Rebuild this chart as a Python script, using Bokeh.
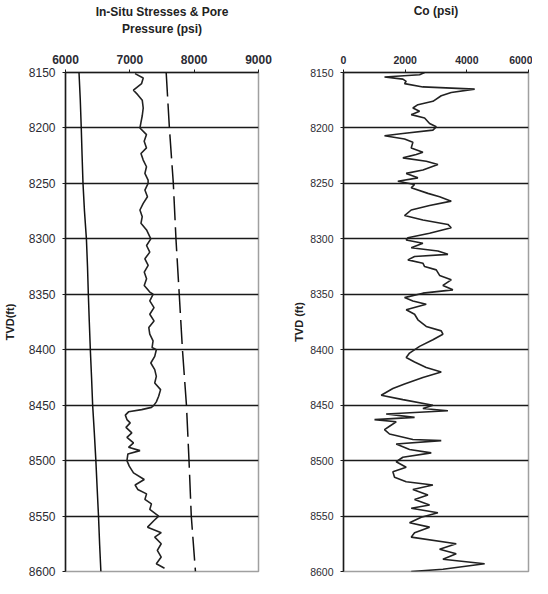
from bokeh.plotting import figure
from bokeh.layouts import row
from bokeh.models import Range1d, FixedTicker
from bokeh.embed import file_html
from bokeh.resources import INLINE

# ---------------- data ----------------
depth_ticks = [8150, 8200, 8250, 8300, 8350, 8400, 8450, 8500, 8550, 8600]
stress_ticks = [6000, 7000, 8000, 9000]
co_ticks = [0, 2000, 4000, 6000]

# solid near-linear stress (left curve)
depth_shmin = [8150, 8175, 8200, 8225, 8250, 8275, 8300, 8325, 8350, 8375,
               8400, 8425, 8450, 8475, 8500, 8525, 8550, 8575, 8600]
shmin_psi = [6210, 6230, 6245, 6258, 6272, 6295, 6325, 6342, 6355, 6370,
             6386, 6405, 6422, 6448, 6472, 6492, 6513, 6530, 6550]

# dashed stress (right curve)
depth_sv = [8150, 8200, 8250, 8300, 8350, 8400, 8450, 8500, 8550, 8600]
sv_psi = [7565, 7615, 7676, 7717, 7768, 7818, 7880, 7920, 7955, 8020]

# wiggly middle curve
depth_mid = [8151, 8155, 8160, 8166, 8170, 8175, 8182, 8189, 8195, 8200,
             8206, 8212, 8218, 8223, 8229, 8235, 8241, 8247, 8250, 8256,
             8262, 8268, 8274, 8280, 8286, 8292, 8300, 8306, 8312, 8318,
             8324, 8330, 8336, 8342, 8348, 8350, 8356, 8362, 8368, 8374,
             8380, 8386, 8392, 8398, 8400, 8406, 8412, 8418, 8424, 8430,
             8436, 8442, 8447, 8450, 8452, 8454, 8456, 8459, 8463, 8466,
             8470, 8475, 8479, 8484, 8488, 8491, 8494, 8500, 8505, 8511,
             8517, 8522, 8526, 8530, 8535, 8539, 8544, 8550, 8554, 8560,
             8565, 8569, 8575, 8581, 8587, 8593, 8597]
mid_psi = [7081, 7208, 7183, 7056, 7122, 7193, 7208, 7193, 7173, 7157,
           7259, 7223, 7259, 7173, 7208, 7259, 7234, 7284, 7284, 7234,
           7274, 7208, 7157, 7193, 7173, 7260, 7326, 7260, 7310, 7234,
           7285, 7224, 7260, 7224, 7310, 7361, 7310, 7376, 7310, 7376,
           7295, 7310, 7361, 7346, 7412, 7387, 7326, 7387, 7412, 7387,
           7478, 7448, 7412, 7376, 7336, 7184, 6980, 6930, 6955, 7006,
           6940, 7031, 6955, 7057, 6980, 7158, 6970, 6955, 6991, 7057,
           7224, 7082, 7123, 7260, 7234, 7336, 7310, 7448, 7376, 7275,
           7488, 7387, 7488, 7427, 7488, 7412, 7539]

# Co curve
depth_co = [8150, 8152, 8154, 8156, 8158, 8160, 8163, 8165, 8168, 8171,
            8176, 8179, 8182, 8185, 8188, 8191, 8196, 8199, 8202, 8205,
            8207, 8210, 8213, 8218, 8222, 8224, 8227, 8230, 8233, 8238,
            8241, 8245, 8248, 8251, 8254, 8259, 8262, 8266, 8270, 8274,
            8279, 8283, 8287, 8290, 8295, 8299, 8301, 8304, 8308, 8311,
            8314, 8316, 8319, 8322, 8325, 8328, 8333, 8337, 8342, 8346,
            8349, 8353, 8356, 8359, 8364, 8368, 8373, 8379, 8383, 8386,
            8391, 8397, 8403, 8407, 8411, 8416, 8420, 8425, 8431, 8435,
            8441, 8445, 8450, 8453, 8455, 8458, 8461, 8463, 8465, 8469,
            8472, 8476, 8481, 8482, 8485, 8490, 8493, 8497, 8501, 8506,
            8510, 8515, 8519, 8522, 8526, 8531, 8535, 8540, 8543, 8547,
            8551, 8556, 8560, 8565, 8569, 8575, 8580, 8584, 8589, 8593,
            8598, 8600]
co_psi = [2630, 2467, 1330, 1925, 2033, 1980, 2575, 4254, 3494, 3170,
          2900, 2413, 2250, 2467, 2196, 2630, 2792, 3008, 2900, 1925,
          1330, 1980, 2250, 2196, 2575, 2358, 1925, 2683, 3062, 2575,
          2033, 2413, 1763, 2305, 2196, 2738, 3117, 3494, 2792, 2196,
          1980, 2575, 3387, 3494, 2792, 2088, 2033, 2575, 2196, 3062,
          3387, 2305, 2088, 2575, 2630, 3008, 3117, 3494, 3224, 3548,
          2575, 1980, 2250, 2683, 2033, 2305, 2413, 2683, 3170, 3224,
          2900, 2467, 2142, 2033, 2305, 2683, 3170, 2575, 1980, 1601,
          1222, 1925, 2900, 2575, 3387, 1384, 2305, 1006, 1709, 1492,
          1330, 1492, 2250, 3170, 1709, 2142, 2846, 1925, 1709, 2033,
          1601, 1655, 2033, 2900, 2250, 2738, 2305, 2792, 2196, 3062,
          2521, 2142, 2792, 2305, 2196, 3656, 3117, 3656, 3224, 4578,
          3224, 2196]

FONT = "Liberation Sans"
TICK_COLOR = "#2b2b33"


def make_fig(width, left_border, right_border, xr, xticks, xlabel, xlabel_standoff,
             ylabel, ylabel_standoff, fs):
    p = figure(width=width, height=578, output_backend="svg", toolbar_location=None,
               x_axis_location="above", min_border_left=left_border,
               min_border_right=right_border, min_border_top=70, min_border_bottom=7,
               x_range=Range1d(*xr), y_range=Range1d(8600, 8150))
    p.background_fill_color = "white"
    p.border_fill_color = "white"
    p.outline_line_color = "#a0a0a0"
    p.outline_line_width = 1.5

    p.xgrid.visible = False
    p.ygrid.ticker = FixedTicker(ticks=depth_ticks[1:])
    p.ygrid.grid_line_color = "#1a1a1a"
    p.ygrid.grid_line_width = 1.4

    xa = p.xaxis[0]
    xa.ticker = FixedTicker(ticks=xticks)
    xa.axis_line_color = "#1a1a1a"
    xa.axis_line_width = 1.5
    xa.major_tick_out = 3
    xa.major_tick_in = 0
    xa.major_tick_line_color = "#1a1a1a"
    xa.minor_tick_line_color = None
    xa.major_label_text_font = FONT
    xa.major_label_text_font_size = fs
    xa.major_label_text_font_style = "bold"
    xa.major_label_text_color = TICK_COLOR
    xa.major_label_standoff = 6
    xa.axis_label = xlabel
    xa.axis_label_text_font = FONT
    xa.axis_label_text_font_size = "12px"
    xa.axis_label_text_font_style = "bold"
    xa.axis_label_text_color = "#222222"
    xa.axis_label_standoff = xlabel_standoff

    ya = p.yaxis[0]
    ya.ticker = FixedTicker(ticks=depth_ticks)
    ya.axis_line_color = "#1a1a1a"
    ya.axis_line_width = 1.5
    ya.major_tick_out = 3
    ya.major_tick_in = 0
    ya.major_tick_line_color = "#1a1a1a"
    ya.minor_tick_line_color = None
    ya.major_label_text_font = FONT
    ya.major_label_text_font_size = fs
    ya.major_label_text_color = TICK_COLOR
    ya.major_label_standoff = 7
    ya.axis_label = ylabel
    ya.axis_label_text_font = FONT
    ya.axis_label_text_font_size = "11px"
    ya.axis_label_text_font_style = "bold"
    ya.axis_label_text_color = "#222222"
    ya.axis_label_standoff = ylabel_standoff
    return p


p1 = make_fig(272, 61, 14, (6000, 9000), stress_ticks,
              "In-Situ Stresses & Pore\nPressure (psi)", 16, "TVD(ft)", 10, "12px")
p1.line(shmin_psi, depth_shmin, line_color="#111111", line_width=1.5)
p1.line(sv_psi, depth_sv, line_color="#111111", line_width=1.5, line_dash="24 7")
p1.line(mid_psi, depth_mid, line_color="#222222", line_width=1.6)

p2 = make_fig(260, 71, 4, (0, 6000), co_ticks,
              "Co (psi)", 35, "TVD (ft)", 2, "10.5px")
p2.line(co_psi, depth_co, line_color="#222222", line_width=1.6)

layout = row(p1, p2)
open("out.html", "w").write(file_html(layout, INLINE))
